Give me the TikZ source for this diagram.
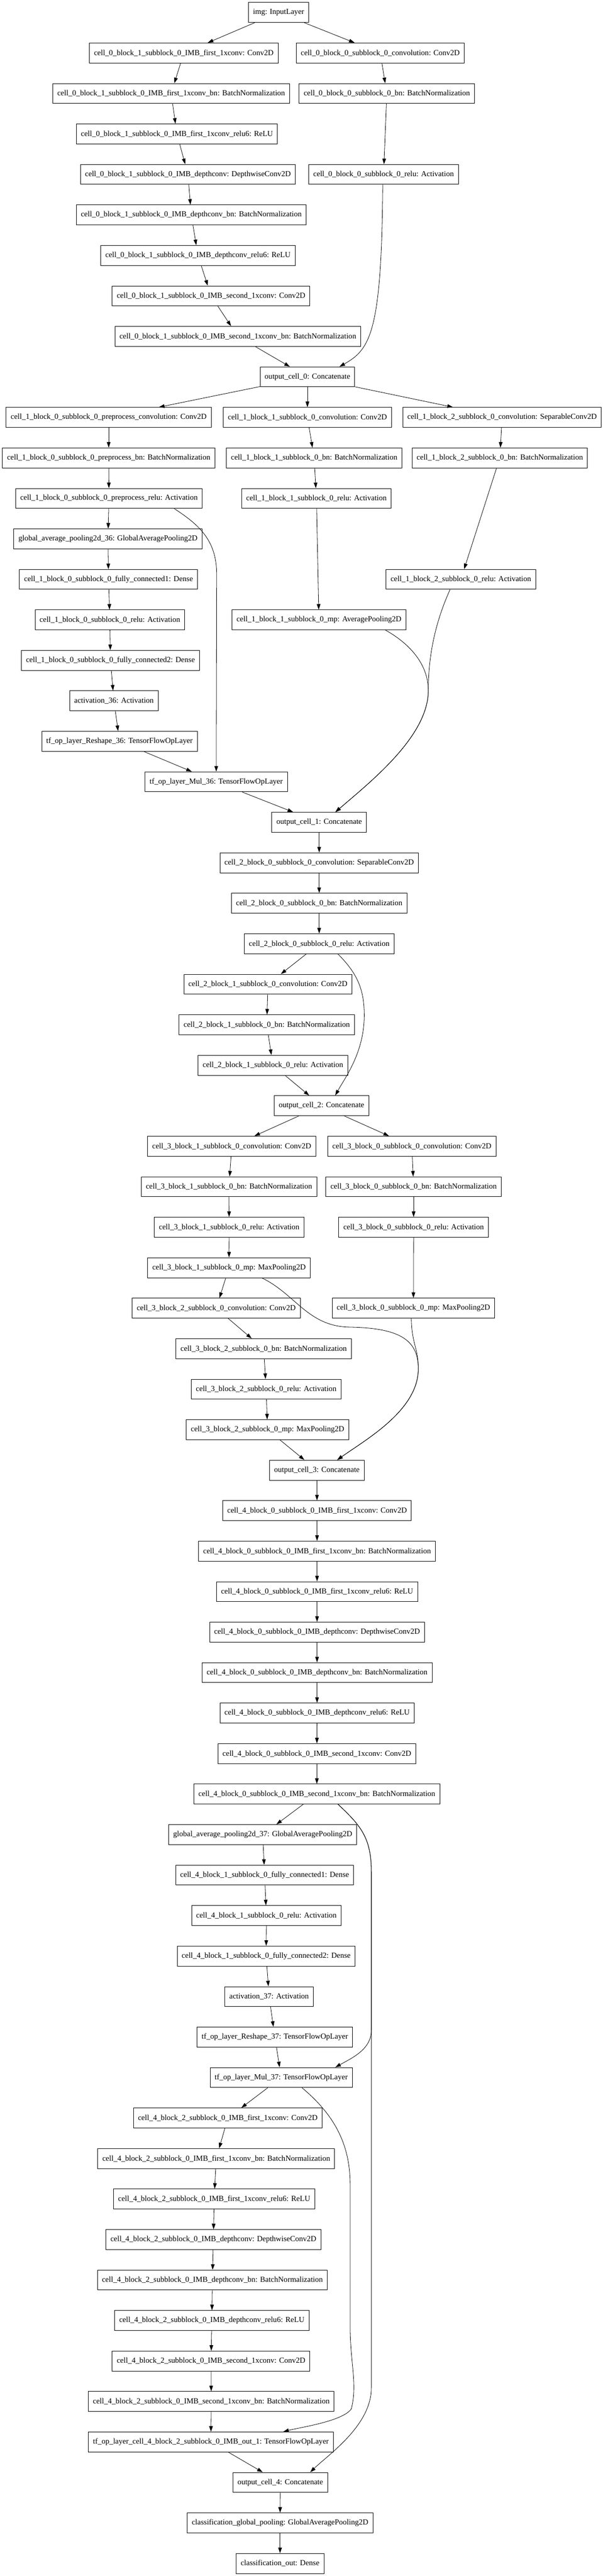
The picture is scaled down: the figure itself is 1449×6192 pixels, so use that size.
\documentclass[tikz,border=0pt]{standalone}
\usepackage{fontspec}
\setmainfont{Liberation Serif}
\usetikzlibrary{arrows.meta,calc}

\begin{document}
\begin{tikzpicture}[x=0.5pt,y=-0.5pt,
	layer/.style={shape=rectangle,draw=black,line width=0.6pt,minimum height=24pt,inner xsep=5.5pt,inner ysep=0pt,font=\fontsize{9.3}{11}\selectfont},
	flow/.style={-{Triangle[length=6.7pt,width=4.4pt]},line width=0.5pt}]

	\useasboundingbox (0,0) rectangle (1449,6192);

	% cell 0
	\node[layer] (inp) at (670,30) {img: InputLayer};
	\node[layer] (c0b1conv) at (442,127.3) {cell\_0\_block\_1\_subblock\_0\_IMB\_first\_1xconv: Conv2D};
	\node[layer] (c0b0conv) at (914.5,127.3) {cell\_0\_block\_0\_subblock\_0\_convolution: Conv2D};
	\node[layer] (c0b1bn) at (411.6,224.7) {cell\_0\_block\_1\_subblock\_0\_IMB\_first\_1xconv\_bn: BatchNormalization};
	\node[layer] (c0b0bn) at (930.3,224.7) {cell\_0\_block\_0\_subblock\_0\_bn: BatchNormalization};
	\node[layer] (c0b1relu) at (425.5,322) {cell\_0\_block\_1\_subblock\_0\_IMB\_first\_1xconv\_relu6: ReLU};
	\node[layer] (c0b1dw) at (452,419.3) {cell\_0\_block\_1\_subblock\_0\_IMB\_depthconv: DepthwiseConv2D};
	\node[layer] (c0b0relu) at (922.4,419.3) {cell\_0\_block\_0\_subblock\_0\_relu: Activation};
	\node[layer] (c0b1dwbn) at (460,516.7) {cell\_0\_block\_1\_subblock\_0\_IMB\_depthconv\_bn: BatchNormalization};
	\node[layer] (c0b1dwrelu) at (476,614) {cell\_0\_block\_1\_subblock\_0\_IMB\_depthconv\_relu6: ReLU};
	\node[layer] (c0b1pw) at (507.6,711.3) {cell\_0\_block\_1\_subblock\_0\_IMB\_second\_1xconv: Conv2D};
	\node[layer] (c0b1pwbn) at (572,808.6) {cell\_0\_block\_1\_subblock\_0\_IMB\_second\_1xconv\_bn: BatchNormalization};
	\node[layer] (out0) at (739.3,906) {output\_cell\_0: Concatenate};

	% cell 1
	\node[layer] (c1b0conv) at (261.4,1003.3) {cell\_1\_block\_0\_subblock\_0\_preprocess\_convolution: Conv2D};
	\node[layer] (c1b1conv) at (739.3,1003.3) {cell\_1\_block\_1\_subblock\_0\_convolution: Conv2D};
	\node[layer] (c1b2conv) at (1207.5,1003.3) {cell\_1\_block\_2\_subblock\_0\_convolution: SeparableConv2D};
	\node[layer] (c1b0bn) at (261.4,1100.6) {cell\_1\_block\_0\_subblock\_0\_preprocess\_bn: BatchNormalization};
	\node[layer] (c1b1bn) at (755.5,1100.6) {cell\_1\_block\_1\_subblock\_0\_bn: BatchNormalization};
	\node[layer] (c1b2bn) at (1202,1100.6) {cell\_1\_block\_2\_subblock\_0\_bn: BatchNormalization};
	\node[layer] (c1b0relu) at (262,1198) {cell\_1\_block\_0\_subblock\_0\_preprocess\_relu: Activation};
	\node[layer] (c1b1relu) at (761,1198) {cell\_1\_block\_1\_subblock\_0\_relu: Activation};
	\node[layer] (gap36) at (259.6,1295.3) {global\_average\_pooling2d\_36: GlobalAveragePooling2D};
	\node[layer] (c1b0fc1) at (261,1392.6) {cell\_1\_block\_0\_subblock\_0\_fully\_connected1: Dense};
	\node[layer] (c1b2relu) at (1108.3,1392.6) {cell\_1\_block\_2\_subblock\_0\_relu: Activation};
	\node[layer] (c1b0act) at (264.2,1490) {cell\_1\_block\_0\_subblock\_0\_relu: Activation};
	\node[layer] (c1b1mp) at (767,1490) {cell\_1\_block\_1\_subblock\_0\_mp: AveragePooling2D};
	\node[layer] (c1b0fc2) at (265.6,1587.3) {cell\_1\_block\_0\_subblock\_0\_fully\_connected2: Dense};
	\node[layer] (act36) at (274,1684.6) {activation\_36: Activation};
	\node[layer] (resh36) at (287.4,1781.9) {tf\_op\_layer\_Reshape\_36: TensorFlowOpLayer};
	\node[layer] (mul36) at (520,1879.3) {tf\_op\_layer\_Mul\_36: TensorFlowOpLayer};
	\node[layer] (out1) at (767.6,1976.6) {output\_cell\_1: Concatenate};

	% cell 2
	\node[layer] (c2b0conv) at (767.6,2073.9) {cell\_2\_block\_0\_subblock\_0\_convolution: SeparableConv2D};
	\node[layer] (c2b0bn) at (767.6,2171.3) {cell\_2\_block\_0\_subblock\_0\_bn: BatchNormalization};
	\node[layer] (c2b0relu) at (767.6,2268.6) {cell\_2\_block\_0\_subblock\_0\_relu: Activation};
	\node[layer] (c2b1conv) at (644.3,2365.9) {cell\_2\_block\_1\_subblock\_0\_convolution: Conv2D};
	\node[layer] (c2b1bn) at (641.5,2463.3) {cell\_2\_block\_1\_subblock\_0\_bn: BatchNormalization};
	\node[layer] (c2b1relu) at (656.4,2560.6) {cell\_2\_block\_1\_subblock\_0\_relu: Activation};
	\node[layer] (out2) at (773.2,2657.9) {output\_cell\_2: Concatenate};

	% cell 3
	\node[layer] (c3b1conv) at (557.2,2755.2) {cell\_3\_block\_1\_subblock\_0\_convolution: Conv2D};
	\node[layer] (c3b0conv) at (990.5,2755.2) {cell\_3\_block\_0\_subblock\_0\_convolution: Conv2D};
	\node[layer] (c3b1bn) at (550.7,2852.6) {cell\_3\_block\_1\_subblock\_0\_bn: BatchNormalization};
	\node[layer] (c3b0bn) at (994.7,2852.6) {cell\_3\_block\_0\_subblock\_0\_bn: BatchNormalization};
	\node[layer] (c3b1relu) at (551.1,2949.9) {cell\_3\_block\_1\_subblock\_0\_relu: Activation};
	\node[layer] (c3b0relu) at (994.7,2949.9) {cell\_3\_block\_0\_subblock\_0\_relu: Activation};
	\node[layer] (c3b1mp) at (550.7,3047.2) {cell\_3\_block\_1\_subblock\_0\_mp: MaxPooling2D};
	\node[layer] (c3b2conv) at (520,3144.6) {cell\_3\_block\_2\_subblock\_0\_convolution: Conv2D};
	\node[layer] (c3b0mp) at (994.2,3144.6) {cell\_3\_block\_0\_subblock\_0\_mp: MaxPooling2D};
	\node[layer] (c3b2bn) at (634.1,3241.9) {cell\_3\_block\_2\_subblock\_0\_bn: BatchNormalization};
	\node[layer] (c3b2relu) at (640.1,3339.2) {cell\_3\_block\_2\_subblock\_0\_relu: Activation};
	\node[layer] (c3b2mp) at (643.4,3436.6) {cell\_3\_block\_2\_subblock\_0\_mp: MaxPooling2D};
	\node[layer] (out3) at (762,3533.9) {output\_cell\_3: Concatenate};

	% cell 4
	\node[layer] (c4b0conv) at (762.5,3631.2) {cell\_4\_block\_0\_subblock\_0\_IMB\_first\_1xconv: Conv2D};
	\node[layer] (c4b0bn) at (762.5,3728.5) {cell\_4\_block\_0\_subblock\_0\_IMB\_first\_1xconv\_bn: BatchNormalization};
	\node[layer] (c4b0relu) at (762.5,3825.9) {cell\_4\_block\_0\_subblock\_0\_IMB\_first\_1xconv\_relu6: ReLU};
	\node[layer] (c4b0dw) at (762.5,3923.2) {cell\_4\_block\_0\_subblock\_0\_IMB\_depthconv: DepthwiseConv2D};
	\node[layer] (c4b0dwbn) at (762.5,4020.5) {cell\_4\_block\_0\_subblock\_0\_IMB\_depthconv\_bn: BatchNormalization};
	\node[layer] (c4b0dwrelu) at (762.5,4117.9) {cell\_4\_block\_0\_subblock\_0\_IMB\_depthconv\_relu6: ReLU};
	\node[layer] (c4b0pw) at (762,4215.2) {cell\_4\_block\_0\_subblock\_0\_IMB\_second\_1xconv: Conv2D};
	\node[layer] (c4b0pwbn) at (762,4312.5) {cell\_4\_block\_0\_subblock\_0\_IMB\_second\_1xconv\_bn: BatchNormalization};
	\node[layer] (gap37) at (631.8,4409.9) {global\_average\_pooling2d\_37: GlobalAveragePooling2D};
	\node[layer] (c4b1fc1) at (636.4,4507.2) {cell\_4\_block\_1\_subblock\_0\_fully\_connected1: Dense};
	\node[layer] (c4b1relu) at (640.6,4604.5) {cell\_4\_block\_1\_subblock\_0\_relu: Activation};
	\node[layer] (c4b1fc2) at (640.1,4701.8) {cell\_4\_block\_1\_subblock\_0\_fully\_connected2: Dense};
	\node[layer] (act37) at (647.1,4799.2) {activation\_37: Activation};
	\node[layer] (resh37) at (661,4896.5) {tf\_op\_layer\_Reshape\_37: TensorFlowOpLayer};
	\node[layer] (mul37) at (676.3,4993.8) {tf\_op\_layer\_Mul\_37: TensorFlowOpLayer};
	\node[layer] (c4b2conv) at (547.9,5091.2) {cell\_4\_block\_2\_subblock\_0\_IMB\_first\_1xconv: Conv2D};
	\node[layer] (c4b2bn) at (520,5188.5) {cell\_4\_block\_2\_subblock\_0\_IMB\_first\_1xconv\_bn: BatchNormalization};
	\node[layer] (c4b2relu) at (515,5285.8) {cell\_4\_block\_2\_subblock\_0\_IMB\_first\_1xconv\_relu6: ReLU};
	\node[layer] (c4b2dw) at (513.1,5383.2) {cell\_4\_block\_2\_subblock\_0\_IMB\_depthconv: DepthwiseConv2D};
	\node[layer] (c4b2dwbn) at (510.8,5480.5) {cell\_4\_block\_2\_subblock\_0\_IMB\_depthconv\_bn: BatchNormalization};
	\node[layer] (c4b2dwrelu) at (509.4,5577.8) {cell\_4\_block\_2\_subblock\_0\_IMB\_depthconv\_relu6: ReLU};
	\node[layer] (c4b2pw) at (507.6,5675.1) {cell\_4\_block\_2\_subblock\_0\_IMB\_second\_1xconv: Conv2D};
	\node[layer] (c4b2pwbn) at (508,5772.5) {cell\_4\_block\_2\_subblock\_0\_IMB\_second\_1xconv\_bn: BatchNormalization};
	\node[layer] (c4out) at (507.1,5869.8) {tf\_op\_layer\_cell\_4\_block\_2\_subblock\_0\_IMB\_out\_1: TensorFlowOpLayer};
	\node[layer] (out4) at (674,5967.1) {output\_cell\_4: Concatenate};

	% head
	\node[layer] (clspool) at (673.5,6064.5) {classification\_global\_pooling: GlobalAveragePooling2D};
	\node[layer] (clsout) at (673.5,6161.8) {classification\_out: Dense};


	\path[flow] (inp) edge (c0b1conv);
	\path[flow] (inp) edge (c0b0conv);
	\path[flow] (c0b1conv) edge (c0b1bn);
	\path[flow] (c0b1bn) edge (c0b1relu);
	\path[flow] (c0b1relu) edge (c0b1dw);
	\path[flow] (c0b1dw) edge (c0b1dwbn);
	\path[flow] (c0b1dwbn) edge (c0b1dwrelu);
	\path[flow] (c0b1dwrelu) edge (c0b1pw);
	\path[flow] (c0b1pw) edge (c0b1pwbn);
	\path[flow] (c0b1pwbn) edge (out0);
	\path[flow] (c0b0conv) edge (c0b0bn);
	\path[flow] (c0b0bn) edge (c0b0relu);
	\draw[flow] ($(c0b0relu.south)+(-2,0)$) .. controls (918,800) and (890,840) .. ($(out0.north)+(77,0)$);

	\path[flow] (out0) edge (c1b0conv);
	\path[flow] (out0) edge (c1b1conv);
	\path[flow] (out0) edge (c1b2conv);
	\path[flow] (c1b0conv) edge (c1b0bn);
	\path[flow] (c1b0bn) edge (c1b0relu);
	\path[flow] (c1b0relu) edge (gap36);
	\path[flow] (gap36) edge (c1b0fc1);
	\path[flow] (c1b0fc1) edge (c1b0act);
	\path[flow] (c1b0act) edge (c1b0fc2);
	\path[flow] (c1b0fc2) edge (act36);
	\path[flow] (act36) edge (resh36);
	\path[flow] (resh36) edge (mul36);
	\draw[flow] ($(c1b0relu.south)+(157,0)$) .. controls (480,1262) and (521,1300) .. (521,1380) -- (mul36.north);
	\path[flow] (mul36) edge (out1);
	\path[flow] (c1b1conv) edge (c1b1bn);
	\path[flow] (c1b1bn) edge (c1b1relu);
	\path[flow] (c1b1relu) edge (c1b1mp);
	\draw[flow] ($(c1b1mp.south)+(160,0)$) .. controls (990,1550) and (1030,1600) .. (1030,1660) .. controls (1030,1770) and (890,1880) .. ($(out1.north)+(39,0)$);
	\path[flow] (c1b2conv) edge (c1b2bn);
	\path[flow] (c1b2bn) edge (c1b2relu);
	\draw[flow] ($(c1b2relu.south)+(-26,0)$) .. controls (1045,1500) and (1030,1580) .. (1030,1660) .. controls (1030,1770) and (890,1880) .. ($(out1.north)+(39,0)$);

	\path[flow] (out1) edge (c2b0conv);
	\path[flow] (c2b0conv) edge (c2b0bn);
	\path[flow] (c2b0bn) edge (c2b0relu);
	\path[flow] (c2b0relu) edge (c2b1conv);
	\path[flow] (c2b1conv) edge (c2b1bn);
	\path[flow] (c2b1bn) edge (c2b1relu);
	\path[flow] (c2b1relu) edge (out2);
	\draw[flow] ($(c2b0relu.south)+(45,0)$) .. controls (860,2340) and (876,2380) .. (876,2440) .. controls (876,2530) and (830,2590) .. ($(out2.north)+(33,0)$);

	\path[flow] (out2) edge (c3b1conv);
	\path[flow] (out2) edge (c3b0conv);
	\path[flow] (c3b1conv) edge (c3b1bn);
	\path[flow] (c3b1bn) edge (c3b1relu);
	\path[flow] (c3b1relu) edge (c3b1mp);
	\path[flow] (c3b1mp) edge (c3b2conv);
	\draw[flow] ($(c3b1mp.south)+(79,0)$) .. controls (710,3110) and (740,3188) .. (840,3190) .. controls (960,3192) and (1006,3220) .. (1006,3290) .. controls (1006,3390) and (880,3460) .. ($(out3.north)+(49,0)$);
	\path[flow] (c3b0conv) edge (c3b0bn);
	\path[flow] (c3b0bn) edge (c3b0relu);
	\path[flow] (c3b0relu) edge (c3b0mp);
	\draw[flow] ($(c3b0mp.south)+(-5,0)$) .. controls (990,3230) and (1006,3240) .. (1006,3290) .. controls (1006,3390) and (880,3460) .. ($(out3.north)+(49,0)$);
	\path[flow] (c3b2conv) edge (c3b2bn);
	\path[flow] (c3b2bn) edge (c3b2relu);
	\path[flow] (c3b2relu) edge (c3b2mp);
	\path[flow] (c3b2mp) edge (out3);

	\path[flow] (out3) edge (c4b0conv);
	\path[flow] (c4b0conv) edge (c4b0bn);
	\path[flow] (c4b0bn) edge (c4b0relu);
	\path[flow] (c4b0relu) edge (c4b0dw);
	\path[flow] (c4b0dw) edge (c4b0dwbn);
	\path[flow] (c4b0dwbn) edge (c4b0dwrelu);
	\path[flow] (c4b0dwrelu) edge (c4b0pw);
	\path[flow] (c4b0pw) edge (c4b0pwbn);
	\path[flow] (c4b0pwbn) edge (gap37);
	\path[flow] (gap37) edge (c4b1fc1);
	\path[flow] (c4b1fc1) edge (c4b1relu);
	\path[flow] (c4b1relu) edge (c4b1fc2);
	\path[flow] (c4b1fc2) edge (act37);
	\path[flow] (act37) edge (resh37);
	\path[flow] (resh37) edge (mul37);
	\draw[flow] ($(c4b0pwbn.south)+(51,0)$) .. controls (870,4390) and (893,4420) .. (893,4500) -- (893,4880) .. controls (893,4925) and (850,4945) .. ($(mul37.north)+(130,0)$);
	\draw[flow] ($(c4b0pwbn.south)+(51,0)$) .. controls (870,4390) and (893,4420) .. (893,4500) -- (893,5740) .. controls (893,5830) and (790,5900) .. ($(out4.north)+(72,0)$);
	\path[flow] (mul37) edge (c4b2conv);
	\path[flow] (c4b2conv) edge (c4b2bn);
	\path[flow] (c4b2bn) edge (c4b2relu);
	\path[flow] (c4b2relu) edge (c4b2dw);
	\path[flow] (c4b2dw) edge (c4b2dwbn);
	\path[flow] (c4b2dwbn) edge (c4b2dwrelu);
	\path[flow] (c4b2dwrelu) edge (c4b2pw);
	\path[flow] (c4b2pw) edge (c4b2pwbn);
	\path[flow] (c4b2pwbn) edge (c4out);
	\draw[flow] ($(mul37.south)+(50,0)$) .. controls (800,5080) and (842,5150) .. (842,5250) -- (842,5590) .. controls (842,5680) and (860,5730) .. (845,5790) .. controls (825,5820) and (720,5835) .. ($(c4out.north)+(174,0)$);
	\path[flow] (c4out) edge (out4);

	\path[flow] (out4) edge (clspool);
	\path[flow] (clspool) edge (clsout);

\end{tikzpicture}
\end{document}
